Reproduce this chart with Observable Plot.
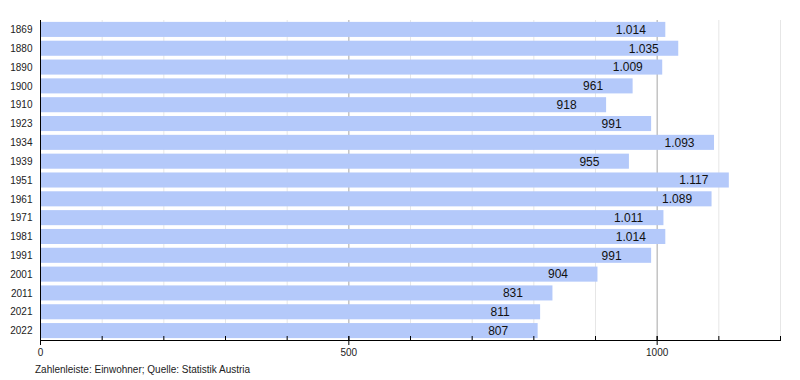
<!DOCTYPE html>
<html>
<head>
<meta charset="utf-8">
<script src="https://cdn.jsdelivr.net/npm/d3@7"></script>
<script src="https://cdn.jsdelivr.net/npm/@observablehq/plot@0.6"></script>
<style>
  body { margin: 0; background: #fff; font-family: "Liberation Sans", Arial, sans-serif; }
  #caption { font-size: 10px; color: #222; margin-left: 35px; line-height: 12px; margin-top: 4px; }
</style>
</head>
<body>
<div id="chart"></div>
<div id="caption">Zahlenleiste: Einwohner; Quelle: Statistik Austria</div>
<script>
const years = ["1869","1880","1890","1900","1910","1923","1934","1939","1951","1961","1971","1981","1991","2001","2011","2021","2022"];
const population = [1014,1035,1009,961,918,991,1093,955,1117,1089,1011,1014,991,904,831,811,807];
const minorTicks = [0,100,200,300,400,500,600,700,800,900,1000,1100,1200];
const majorTicks = [0,500,1000];

const data = years.map((y, i) => ({year: y, value: population[i]}));
const de = d3.formatLocale({decimal: ",", thousands: ".", grouping: [3], currency: ["", " €"]});
const fmt = de.format(",d");

const chart = Plot.plot({
  width: 800,
  height: 360,
  marginLeft: 40,
  marginRight: 20,
  marginTop: 20,
  marginBottom: 20,
  style: {fontFamily: "'Liberation Sans', Arial, sans-serif", fontSize: "10px", color: "#222", background: "#fff"},
  x: {domain: [0, 1200], axis: null, label: null},
  y: {domain: years, paddingInner: 0.2, paddingOuter: 0.1, round: false, axis: null, label: null},
  marks: [
    Plot.gridX(minorTicks, {stroke: "#e6e6e6", strokeOpacity: 1}),
    Plot.gridX([500, 1000], {stroke: "#b0b0b0", strokeOpacity: 1}),
    Plot.barX(data, {y: "year", x: "value", fill: "#b4c9fa"}),
    Plot.text(data, {y: "year", x: "value", text: d => fmt(d.value), textAnchor: "start", dx: -50, fill: "#111", fontSize: 12}),
    Plot.ruleX([0], {stroke: "#000"}),
    Plot.frame({anchor: "bottom", stroke: "#000"}),
    Plot.axisY({tickSize: 0, tickPadding: 8, fontSize: 10, fill: "#222", label: null}),
    Plot.axisX(minorTicks, {tickSize: 4, dy: -4, tickFormat: () => "", stroke: "#000", label: null}),
    Plot.axisX(majorTicks, {tickSize: 9, dy: -4, tickPadding: 3, tickFormat: d => String(d), stroke: "#000", fill: "#222", fontSize: 10, label: null})
  ]
});
document.getElementById("chart").appendChild(chart);
</script>
</body>
</html>
